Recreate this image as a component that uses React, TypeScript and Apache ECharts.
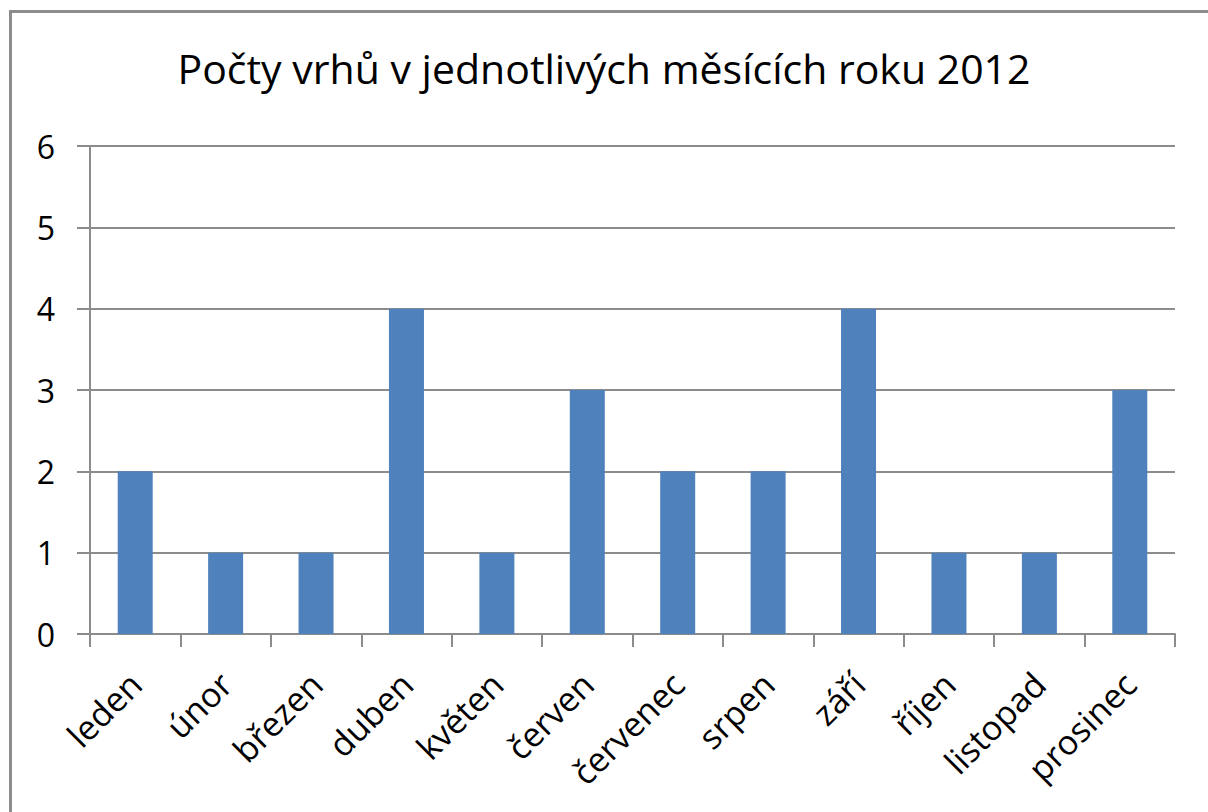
import React, { useEffect, useRef } from "react";
import * as echarts from "echarts";

const categories = ["leden", "únor", "březen", "duben", "květen", "červen", "červenec", "srpen", "září", "říjen", "listopad", "prosinec"];
const values = [2, 1, 1, 4, 1, 3, 2, 2, 4, 1, 1, 3];
const yTicks = [0, 1, 2, 3, 4, 5, 6];
const titleText = "Počty vrhů v jednotlivých měsících roku 2012";

export default function App() {
  const ref = useRef<HTMLDivElement>(null);
  useEffect(() => {
    const chart = echarts.init(ref.current!, null, { renderer: "svg" });
    const font = "'Open Sans', 'Noto Sans', sans-serif";
    chart.setOption({
      animation: false,
      backgroundColor: "#ffffff",
      title: {
        text: titleText,
        left: "center",
        top: 42,
        textStyle: { fontFamily: font, fontSize: 41, fontWeight: "normal", color: "#000" },
      },
      graphic: [
        {
          type: "rect",
          z: -10,
          shape: { x: 10.5, y: 11.5, width: 1400, height: 1000 },
          style: { fill: "none", stroke: "#8c8c8c", lineWidth: 3 },
        },
      ],
      grid: { left: 90, right: 33, top: 146, bottom: 178 },
      xAxis: {
        type: "category",
        data: categories,
        axisLine: { lineStyle: { color: "#8c8c8c", width: 2 } },
        axisTick: { show: true, length: 13, lineStyle: { color: "#8c8c8c", width: 2 } },
        axisLabel: {
          rotate: 45,
          interval: 0,
          margin: 44,
          fontFamily: font,
          fontSize: 34,
          color: "#000",
        },
      },
      yAxis: {
        type: "value",
        min: 0,
        max: yTicks[yTicks.length - 1],
        interval: 1,
        axisLine: { show: true, lineStyle: { color: "#8c8c8c", width: 2 } },
        axisTick: { show: true, length: 13, lineStyle: { color: "#8c8c8c", width: 2 } },
        splitLine: { lineStyle: { color: "#8c8c8c", width: 2 } },
        axisLabel: { margin: 35, fontFamily: font, fontSize: 32, color: "#000" },
      },
      series: [
        {
          type: "bar",
          data: values,
          barWidth: 35,
          itemStyle: { color: "#4f81bd" },
        },
      ],
    });
    return () => chart.dispose();
  }, []);
  return <div ref={ref} style={{ position: "fixed", left: 0, top: 0, width: 1208, height: 812 }} />;
}
